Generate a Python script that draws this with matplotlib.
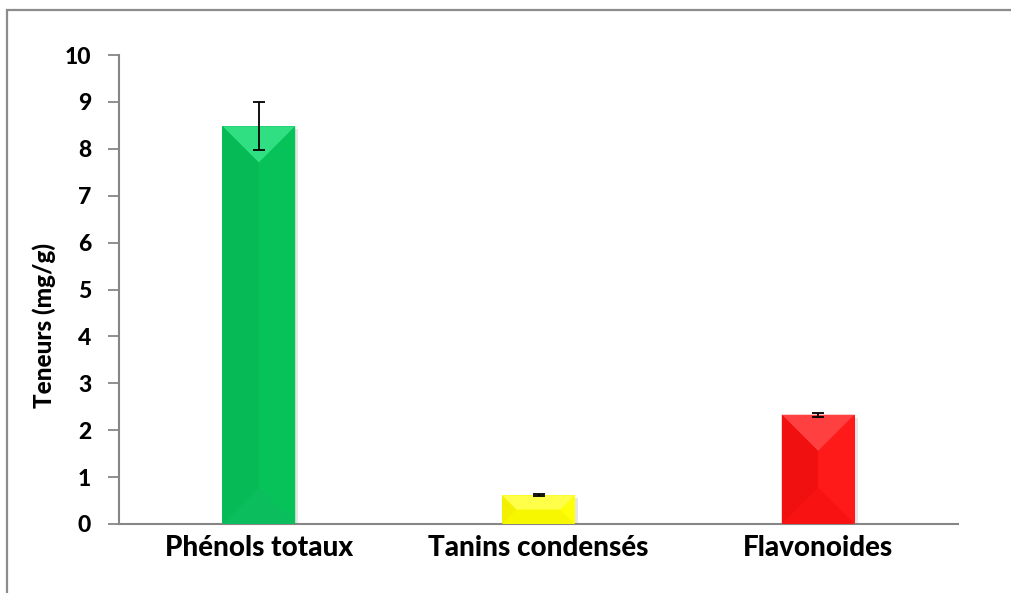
import matplotlib.pyplot as plt
from matplotlib.patches import Polygon, Rectangle
import numpy as np

categories = ['Phénols totaux', 'Tanins condensés', 'Flavonoides']
values = [8.48, 0.61, 2.33]
errors = [0.51, 0.02, 0.04]

# couleurs: face, haut, bas, gauche, droite
colors = [
    ['#07C158', '#30DF82', '#0BBD5C', '#06BA55', '#07C259'],
    ['#FFFF00', '#FFFF4A', '#F7F700', '#F0F000', '#FFFF08'],
    ['#FF1414', '#FF4040', '#F81212', '#F01010', '#FF1A1A'],
]

plt.rcParams['font.family'] = ['Lato', 'DejaVu Sans']

fig = plt.figure(figsize=(10.11, 5.93), dpi=100)
ax = fig.add_axes([119 / 1011, 69 / 593, 839 / 1011, 469 / 593])

# cadre exterieur (coupe a droite et en bas)
fig.add_artist(Rectangle((7 / 1011, -0.2), 1.2, 1.2 - 10 / 593,
                         transform=fig.transFigure, fill=False,
                         edgecolor='#8C8C8C', linewidth=1.6))

x = np.arange(len(categories))
w = 0.26
ax.bar(x, values, width=w, color=[c[0] for c in colors], zorder=2)
ax.errorbar(x, values, yerr=errors, fmt='none', ecolor='black',
            elinewidth=1.3, capsize=4.5, capthick=1.3, zorder=5)

ax.set_xlim(-0.5, 2.5)
ax.set_ylim(0, 10)
ax.set_yticks(range(0, 11))
ax.set_xticks(x)
ax.set_xticklabels(categories, fontsize=20, fontweight='black')
ax.tick_params(axis='y', labelsize=16.5, length=8, width=1.3, color='#868686', pad=12)
ax.tick_params(axis='x', length=0, pad=8)
for lab in ax.get_yticklabels():
    lab.set_fontweight('black')
ax.set_ylabel('Teneurs (mg/g)', fontsize=17.5, fontweight='black')
ax.yaxis.set_label_coords(-0.075, 0.424)

for s in ['top', 'right']:
    ax.spines[s].set_visible(False)
for s in ['left', 'bottom']:
    ax.spines[s].set_color('#868686')
    ax.spines[s].set_linewidth(1.5)

# effet biseau sur les barres
fig.canvas.draw()
inv = ax.transData.inverted()
for i in range(len(values)):
    (x0, y0) = ax.transData.transform((x[i] - w / 2, 0))
    (x1, y1) = ax.transData.transform((x[i] + w / 2, values[i]))
    d = min((x1 - x0) / 2, (y1 - y0) / 2)
    top = [(x0, y1), (x1, y1), (x1 - d, y1 - d), (x0 + d, y1 - d)]
    bot = [(x0, y0), (x1, y0), (x1 - d, y0 + d), (x0 + d, y0 + d)]
    left = [(x0, y0), (x0 + d, y0 + d), (x0 + d, y1 - d), (x0, y1)]
    right = [(x1, y0), (x1 - d, y0 + d), (x1 - d, y1 - d), (x1, y1)]
    for poly, col in zip([top, bot, left, right], colors[i][1:]):
        ax.add_patch(Polygon(inv.transform(poly), closed=True, facecolor=col,
                             edgecolor='none', zorder=3))
    # ombre legere a droite
    sh = [(x1, y0), (x1 + 3, y0), (x1 + 3, y1 - 3), (x1, y1 - 3)]
    ax.add_patch(Polygon(inv.transform(sh), closed=True, facecolor='#E6E6E6',
                         edgecolor='none', zorder=1))

fig.savefig('out.png', dpi=100)
